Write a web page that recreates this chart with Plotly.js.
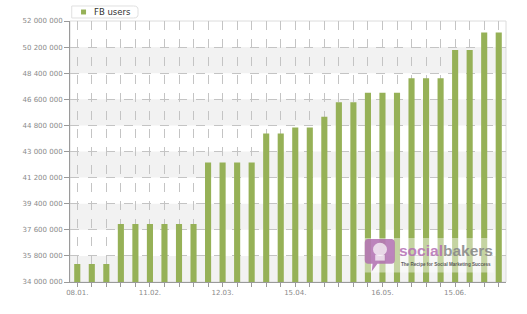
<!DOCTYPE html>
<html>
<head>
<meta charset="utf-8">
<script src="https://cdn.plot.ly/plotly-3.0.1.min.js"></script>
<style>html,body{margin:0;padding:0;background:#fff;}#chart{width:527px;height:314px;}</style>
</head>
<body>
<div id="chart"></div>
<script>
// Categories (weekly-ish snapshots; only some are labelled on the axis)
const categories = ['08.01.','15.01.','22.01.','29.01.','05.02.','11.02.','17.02.','23.02.','01.03.','06.03.',
                    '12.03.','19.03.','26.03.','02.04.','09.04.','15.04.','20.04.','25.04.','30.04.','05.05.',
                    '10.05.','16.05.','22.05.','28.05.','03.06.','09.06.','15.06.','21.06.','27.06.','03.07.'];
const shownLabels = ['08.01.','11.02.','12.03.','15.04.','16.05.','15.06.'];
const fbUsers = [35250000,35250000,35250000,38000000,38000000,38000000,38000000,38000000,38000000,42250000,
                 42250000,42250000,42250000,44250000,44250000,44650000,44650000,45400000,46400000,46400000,
                 47050000,47050000,47050000,48050000,48050000,48050000,50000000,50000000,51200000,51200000];
const seriesName = 'FB users';
const yTicks = [34000000,35800000,37600000,39400000,41200000,43000000,44800000,46600000,48400000,50200000,52000000];

const fmt = v => String(v).replace(/\B(?=(\d{3})+(?!\d))/g, ' ');
const axisFont = {family: 'DejaVu Sans', size: 7, color: '#8a8a8a'};

const shapes = [];
// alternating grey bands
for (let i = 0; i < yTicks.length - 1; i += 2) {
  shapes.push({type:'rect', xref:'paper', yref:'y', x0:0, x1:1, y0:yTicks[i], y1:yTicks[i+1],
               fillcolor:'#f2f2f2', line:{width:0}, layer:'below'});
}
// light frame (top / right)
shapes.push({type:'rect', xref:'paper', yref:'paper', x0:0, x1:1, y0:0, y1:1,
             line:{color:'#dcdcdc', width:1}, fillcolor:'rgba(0,0,0,0)', layer:'below'});
// legend box + marker
shapes.push({type:'path', xref:'paper', yref:'paper',
             path:'M 0.004 1.0115 L 0.146 1.0115 Q 0.156 1.0115 0.156 1.025 L 0.156 1.044 Q 0.156 1.0575 0.146 1.0575 L 0.004 1.0575 Z',
             line:{color:'#e0e0e0', width:1}, fillcolor:'#ffffff'});
shapes.push({type:'rect', xref:'paper', yref:'paper', x0:0.0253, x1:0.0368, y0:1.025, y1:1.044,
             line:{width:0}, fillcolor:'#96b157'});
// watermark veil
shapes.push({type:'rect', xref:'paper', yref:'paper', x0:0.676, x1:0.972, y0:0.036, y1:0.169,
             line:{width:0}, fillcolor:'rgba(255,255,255,0.45)', layer:'above'});
// watermark logo (rounded purple block with tail)
shapes.push({type:'path', xref:'paper', yref:'paper', layer:'above',
             path:'M 0.684 0.165 L 0.737 0.165 Q 0.745 0.165 0.745 0.150 L 0.745 0.085 Q 0.745 0.070 0.737 0.070 L 0.705 0.070 L 0.692 0.040 L 0.694 0.070 L 0.684 0.070 Q 0.676 0.070 0.676 0.085 L 0.676 0.150 Q 0.676 0.165 0.684 0.165 Z',
             fillcolor:'rgba(176,110,176,0.85)', line:{width:0}});
shapes.push({type:'circle', xref:'paper', yref:'paper', layer:'above',
             x0:0.695, x1:0.727, y0:0.100, y1:0.150, fillcolor:'rgba(255,255,255,0.7)', line:{width:0}});
shapes.push({type:'rect', xref:'paper', yref:'paper', layer:'above',
             x0:0.700, x1:0.722, y0:0.082, y1:0.104, fillcolor:'rgba(255,255,255,0.7)', line:{width:0}});

const annotations = [
  {xref:'paper', yref:'paper', x:0.0506, y:1.0345, xanchor:'left', yanchor:'middle', showarrow:false,
   text:seriesName, font:{family:'DejaVu Sans', size:8.5, color:'#333333'}},
  {xref:'paper', yref:'paper', x:0.750, y:0.120, xanchor:'left', yanchor:'middle', showarrow:false,
   text:'<b><span style="color:#b46fb4">social</span><span style="color:#858585">bakers</span></b>',
   font:{family:'Liberation Sans', size:15.5, color:'#858585'}, opacity:0.85},
  {xref:'paper', yref:'paper', x:0.755, y:0.066, xanchor:'left', yanchor:'middle', showarrow:false,
   text:'<b>The Recipe for Social Marketing Success</b>',
   font:{family:'Liberation Sans', size:4.6, color:'#444444'}, opacity:0.85}
];

const trace = {
  type:'bar', x:categories, y:fbUsers, name:seriesName,
  marker:{color:'#96b157', line:{width:0}}, showlegend:false, hoverinfo:'x+y'
};

const layout = {
  width:527, height:314,
  margin:{l:70, r:21, t:21, b:32, pad:0},
  paper_bgcolor:'#ffffff', plot_bgcolor:'#ffffff',
  bargap:0.58,
  showlegend:false,
  xaxis:{type:'category', tickvals:categories,
         ticktext:categories.map(c => shownLabels.includes(c) ? c : ''),
         showgrid:true, gridcolor:'#c4c4c4', griddash:'dash', gridwidth:1,
         showline:true, linecolor:'#9a9a9a', linewidth:1,
         ticks:'outside', ticklen:4, tickcolor:'#9a9a9a', tickfont:axisFont, tickangle:0,
         zeroline:false, fixedrange:true},
  yaxis:{range:[yTicks[0], yTicks[yTicks.length-1]], tickvals:yTicks, ticktext:yTicks.map(fmt),
         showgrid:true, gridcolor:'#c4c4c4', griddash:'dash', gridwidth:1,
         showline:true, linecolor:'#9a9a9a', linewidth:1,
         ticks:'outside', ticklen:5, tickcolor:'#9a9a9a', tickfont:axisFont,
         zeroline:false, fixedrange:true},
  shapes:shapes,
  annotations:annotations
};

Plotly.newPlot('chart', [trace], layout, {displayModeBar:false, staticPlot:true});
</script>
</body>
</html>
